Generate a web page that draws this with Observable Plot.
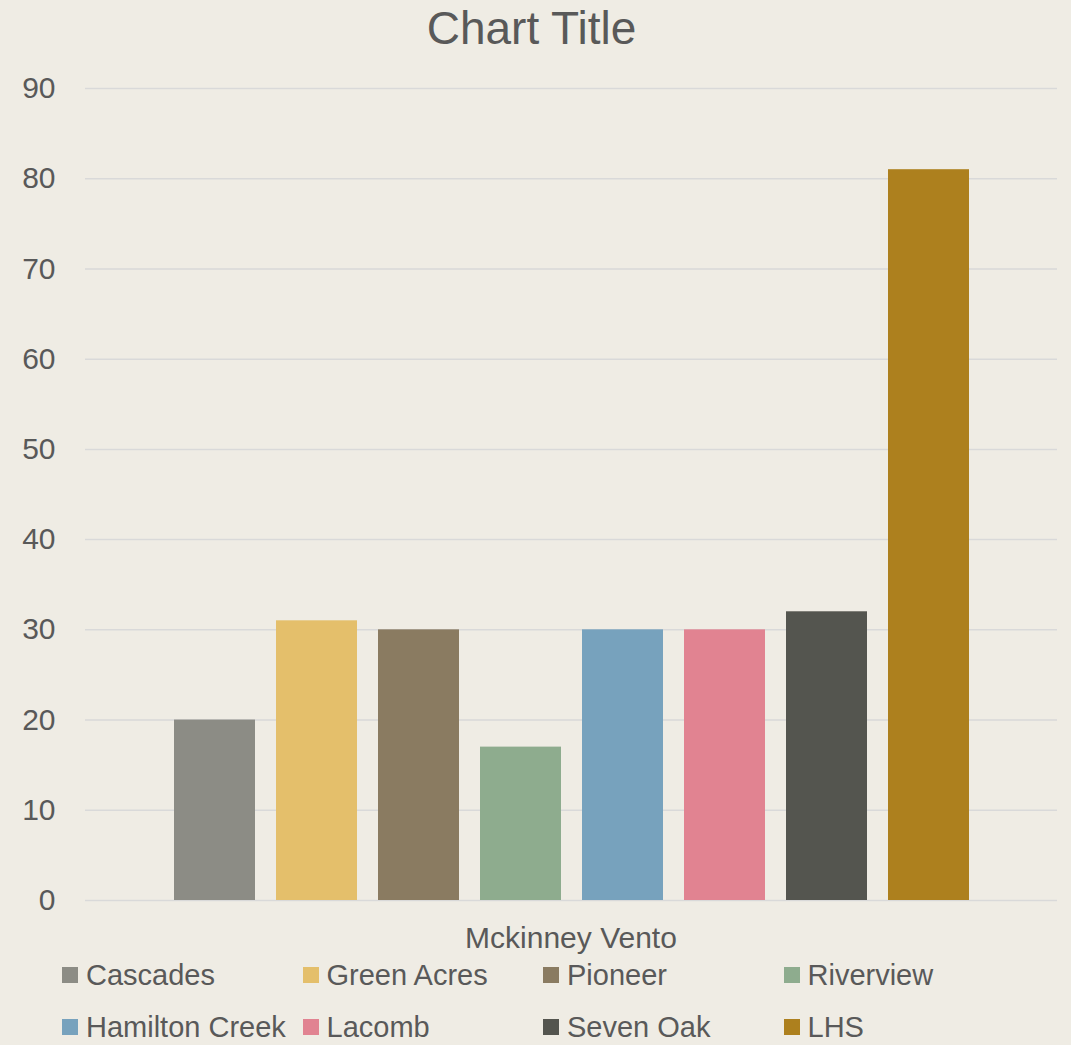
<!DOCTYPE html>
<html>
<head>
<meta charset="utf-8">
<script src="https://cdn.jsdelivr.net/npm/d3@7"></script>
<script src="https://cdn.jsdelivr.net/npm/@observablehq/plot@0.6"></script>
<style>
  html, body { margin: 0; padding: 0; background: #EFECE4; }
  #wrap { position: relative; width: 1071px; height: 1045px; background: #EFECE4;
          font-family: "Liberation Sans", Arial, sans-serif; color: #595959; overflow: hidden; }
  #title { position: absolute; left: 0; top: 0; width: 1063px; text-align: center;
           font-size: 46px; line-height: 56px; }
  #chart { position: absolute; left: 0; top: 60px; }
  #xlabel { position: absolute; left: 85px; width: 972px; top: 920px; text-align: center;
            font-size: 30px; line-height: 36px; }
  #legend { position: absolute; left: 62px; top: 955px; display: grid;
            grid-template-columns: repeat(4, 240.5px); row-gap: 12px; }
  .item { display: flex; align-items: center; height: 40px; font-size: 29px; white-space: nowrap; }
  .sw { width: 16px; height: 16px; margin-right: 8px; flex: none; }
</style>
</head>
<body>
<div id="wrap">
  <div id="title">Chart Title</div>
  <div id="chart"></div>
  <div id="xlabel">Mckinney Vento</div>
  <div id="legend"></div>
</div>
<script>
const schools = ["Cascades", "Green Acres", "Pioneer", "Riverview", "Hamilton Creek", "Lacomb", "Seven Oak", "LHS"];
const values = [20, 31, 30, 17, 30, 30, 32, 81];
const colors = ["#8C8C85", "#E4BF6B", "#8A7B61", "#8EAC8E", "#77A2BD", "#E18391", "#54554F", "#AD801E"];
const yTicks = [0, 10, 20, 30, 40, 50, 60, 70, 80, 90];

const data = schools.map((s, i) => ({school: s, value: values[i]}));

const chart = Plot.plot({
  width: 1071,
  height: 860,
  marginTop: 28,
  marginBottom: 20,
  marginLeft: 85,
  marginRight: 14,
  style: {background: "transparent", fontFamily: "'Liberation Sans', Arial, sans-serif", fontSize: "30px", color: "#595959"},
  x: {domain: schools, paddingInner: 0.21, paddingOuter: 0.83, axis: null},
  y: {domain: [0, 90], ticks: yTicks, label: null},
  color: {domain: schools, range: colors},
  marks: [
    Plot.gridY(yTicks, {stroke: "#D9D9D9", strokeOpacity: 1, strokeWidth: 1.5}),
    Plot.axisY(yTicks, {tickSize: 0, tickPadding: 30, fontSize: 30, fill: "#595959", label: null}),
    Plot.barY(data, {x: "school", y: "value", fill: "school"})
  ]
});
document.getElementById("chart").appendChild(chart);

const legend = document.getElementById("legend");
schools.forEach((s, i) => {
  const it = document.createElement("div");
  it.className = "item";
  const sw = document.createElement("span");
  sw.className = "sw";
  sw.style.background = colors[i];
  const t = document.createElement("span");
  t.textContent = s;
  it.appendChild(sw);
  it.appendChild(t);
  legend.appendChild(it);
});
</script>
</body>
</html>
